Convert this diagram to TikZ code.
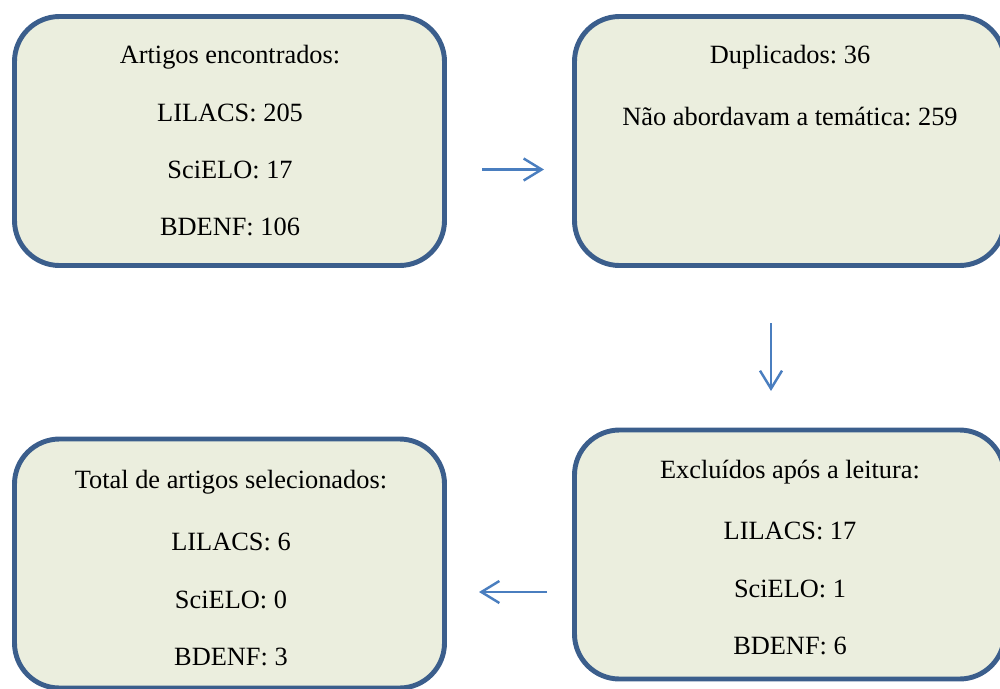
\documentclass[tikz,border=0pt]{standalone}
\usepackage{fontspec}
\setmainfont{Liberation Serif}
\usetikzlibrary{arrows.meta,positioning}
\frenchspacing
\definecolor{boxline}{HTML}{3B5E8C}
\definecolor{boxfill}{HTML}{EBEEDE}
\definecolor{arrowblue}{HTML}{4A7EBF}
\tikzset{
  stagebox/.style={draw=boxline, fill=boxfill, line width=2.8pt, rounded corners=0.9cm,
    minimum width=8.6cm, minimum height=4.98cm, inner sep=0pt},
  linetext/.style={font=\fontsize{15}{18}\selectfont, inner sep=0pt, anchor=base},
  flow/.style={draw=arrowblue, line width=1.4pt, -{Straight Barb[length=3.6mm,width=4.4mm]}},
}

\begin{document}
\begin{tikzpicture}
	\useasboundingbox (0,0) rectangle (20,-13.76);
	\clip (0,0) rectangle (20,-13.76);
	% boxes
	\node[stagebox] (found) at (4.59,-2.82) {};
	\node[stagebox] (removed) at (15.79,-2.82) {};
	\node[stagebox] (excluded) at (15.79,-11.09) {};
	\node[stagebox] (selected) at (4.59,-11.27) {};
	% found
	\node[linetext] (f0) at (4.6,-1.26) {Artigos encontrados:};
	\node[linetext] (f1) at (4.6,-2.42) {LILACS: 205};
	\node[linetext] (f2) at (4.6,-3.56) {SciELO: 17};
	\node[linetext] (f3) at (4.6,-4.70) {BDENF: 106};
	% removed
	\node[linetext] (r0) at (15.8,-1.26) {Duplicados: 36};
	\node[linetext] (r1) at (15.8,-2.50) {Não abordavam a temática: 259};
	% excluded
	\node[linetext] (e0) at (15.8,-9.56) {Excluídos após a leitura:};
	\node[linetext] (e1) at (15.8,-10.78) {LILACS: 17};
	\node[linetext] (e2) at (15.8,-11.94) {SciELO: 1};
	\node[linetext] (e3) at (15.8,-13.08) {BDENF: 6};
	% selected
	\node[linetext] (s0) at (4.62,-9.76) {Total de artigos selecionados:};
	\node[linetext] (s1) at (4.62,-11.00) {LILACS: 6};
	\node[linetext] (s2) at (4.62,-12.16) {SciELO: 0};
	\node[linetext] (s3) at (4.62,-13.30) {BDENF: 3};
	% arrows
	\coordinate (a1) at (9.64,-3.39);
	\coordinate (a2) at (10.88,-3.39);
	\coordinate (b1) at (15.42,-6.46);
	\coordinate (b2) at (15.42,-7.82);
	\coordinate (c1) at (10.94,-11.84);
	\coordinate (c2) at (9.58,-11.84);
	\draw[flow] (a1) -- (a2);
	\draw[flow] (b1) -- (b2);
	\draw[flow] (c1) -- (c2);
\end{tikzpicture}
\end{document}
